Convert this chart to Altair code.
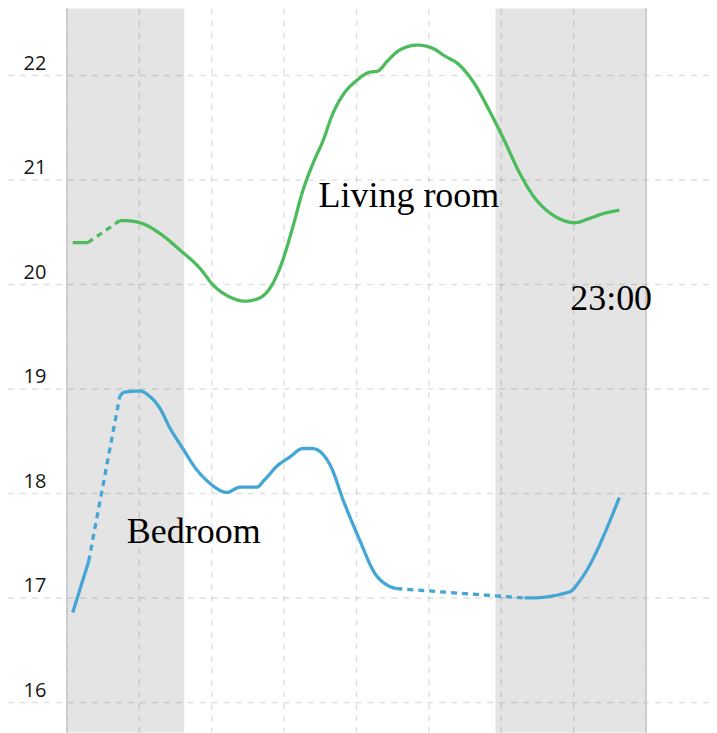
import altair as alt
import pandas as pd

# ---- data ----
living_hours = [15.08, 15.29, 15.73, 15.80, 16.01, 16.28, 16.56, 16.83, 17.04, 17.25,
                17.46, 17.66, 17.80, 17.98, 18.12, 18.26, 18.40, 18.54, 18.67, 18.81,
                19.00, 19.18, 19.29, 19.43, 19.59, 19.84, 20.05, 20.21, 20.42, 20.63,
                20.83, 21.04, 21.25, 21.46, 21.66, 21.87, 22.01, 22.21, 22.42, 22.63]
living_temp = [20.40, 20.40, 20.61, 20.61, 20.59, 20.49, 20.33, 20.16, 19.98, 19.88,
               19.84, 19.87, 19.96, 20.23, 20.55, 20.90, 21.16, 21.38, 21.63, 21.81,
               21.95, 22.03, 22.04, 22.14, 22.24, 22.29, 22.26, 22.19, 22.10, 21.92,
               21.67, 21.38, 21.07, 20.83, 20.69, 20.61, 20.59, 20.63, 20.68, 20.71]
# (style, first index, last index)
living_segments = [("solid", 0, 1), ("dotted", 1, 2), ("solid", 2, 39)]

bedroom_hours = [15.08, 15.30, 15.73, 15.80, 16.01, 16.14, 16.28, 16.42, 16.60, 16.79,
                 16.97, 17.21, 17.39, 17.62, 17.73, 17.90, 18.08, 18.26, 18.39, 18.63,
                 18.83, 19.04, 19.25, 19.46, 19.55, 21.32, 21.39, 21.95, 22.08, 22.63]
bedroom_temp = [16.86, 17.35, 18.93, 18.97, 18.98, 18.93, 18.82, 18.63, 18.43, 18.23,
                18.10, 18.01, 18.06, 18.06, 18.13, 18.26, 18.35, 18.43, 18.43, 18.28,
                17.91, 17.56, 17.24, 17.11, 17.09, 17.00, 17.00, 17.06, 17.16, 17.96]
bedroom_segments = [("solid", 0, 1), ("dotted", 1, 2), ("solid", 2, 24),
                    ("dotted", 24, 25), ("solid", 25, 29)]

band_start = [15.0, 20.92]
band_end = [16.62, 23.0]
border_hours = [15.0, 23.0]

grid_hours = [15, 16, 17, 18, 19, 20, 21, 22, 23]
grid_temps = [16, 17, 18, 19, 20, 21, 22]

label_text = ["Living room", "Bedroom", "23:00"]
label_hours = [18.476, 15.828, 21.952]
label_temps = [20.739, 17.530, 19.755]

# ---- tables ----
rows = []
for room, hrs, tmp, segs in [("Living room", living_hours, living_temp, living_segments),
                             ("Bedroom", bedroom_hours, bedroom_temp, bedroom_segments)]:
    for k, (style, a, b) in enumerate(segs):
        for i in range(a, b + 1):
            rows.append({"room": room, "seg": f"{room}-{k}", "style": style,
                         "h": hrs[i], "t": tmp[i]})
lines_df = pd.DataFrame(rows)
bands_df = pd.DataFrame({"s": band_start, "e": band_end})
border_df = pd.DataFrame({"h": border_hours})
vgrid_df = pd.DataFrame({"h": grid_hours})
hgrid_df = pd.DataFrame({"t": grid_temps})
labels_df = pd.DataFrame({"text": label_text, "h": label_hours, "t": label_temps})

W, H = 702, 725
xscale = alt.Scale(domain=[14.186, 23.869], nice=False, zero=False)
yscale = alt.Scale(domain=[15.713, 22.640], nice=False, zero=False)
yaxis = alt.Axis(values=grid_temps, grid=False, domain=False, ticks=False,
                 labelAlign="left", labelBaseline="alphabetic", labelPadding=-15,
                 labelOffset=-6, labelFont="Open Sans", labelFontSize=20,
                 labelColor="#161616", title=None)

bands = alt.Chart(bands_df).mark_rect(color="#e4e4e4").encode(
    x=alt.X("s:Q", scale=xscale, axis=None),
    x2="e:Q",
    y=alt.value(0),
    y2=alt.value(H),
)
vgrid = alt.Chart(vgrid_df).mark_rule(color="black", opacity=0.12, strokeWidth=1.5,
                                      strokeDash=[6, 6]).encode(
    x=alt.X("h:Q", scale=xscale, axis=None)
)
hgrid = alt.Chart(hgrid_df).mark_rule(color="black", opacity=0.12, strokeWidth=1.5,
                                      strokeDash=[6, 6]).encode(
    y=alt.Y("t:Q", scale=yscale, axis=yaxis)
)
borders = alt.Chart(border_df).mark_rule(color="#c6c6c6", strokeWidth=1.5).encode(
    x=alt.X("h:Q", scale=xscale, axis=None)
)
lines = alt.Chart(lines_df).mark_line(strokeWidth=3.3, interpolate="monotone").encode(
    x=alt.X("h:Q", scale=xscale, axis=None),
    y=alt.Y("t:Q", scale=yscale, axis=yaxis),
    color=alt.Color("room:N", scale=alt.Scale(domain=["Living room", "Bedroom"],
                                              range=["#4cbb5c", "#44a6d5"]), legend=None),
    strokeDash=alt.StrokeDash("style:N", scale=alt.Scale(domain=["solid", "dotted"],
                                                         range=[[1, 0], [6, 5]]), legend=None),
    detail="seg:N",
)
texts = alt.Chart(labels_df).mark_text(align="left", baseline="alphabetic",
                                       font="Liberation Serif", fontSize=36,
                                       color="black").encode(
    x=alt.X("h:Q", scale=xscale, axis=None),
    y=alt.Y("t:Q", scale=yscale, axis=yaxis),
    text="text:N",
)

chart = alt.layer(bands, vgrid, hgrid, borders, lines, texts).properties(
    width=W, height=H, autosize=alt.AutoSizeParams(type="none"), padding=0
).configure_view(stroke=None)

chart.save("out.html", embed_options={"renderer": "svg", "actions": False})
